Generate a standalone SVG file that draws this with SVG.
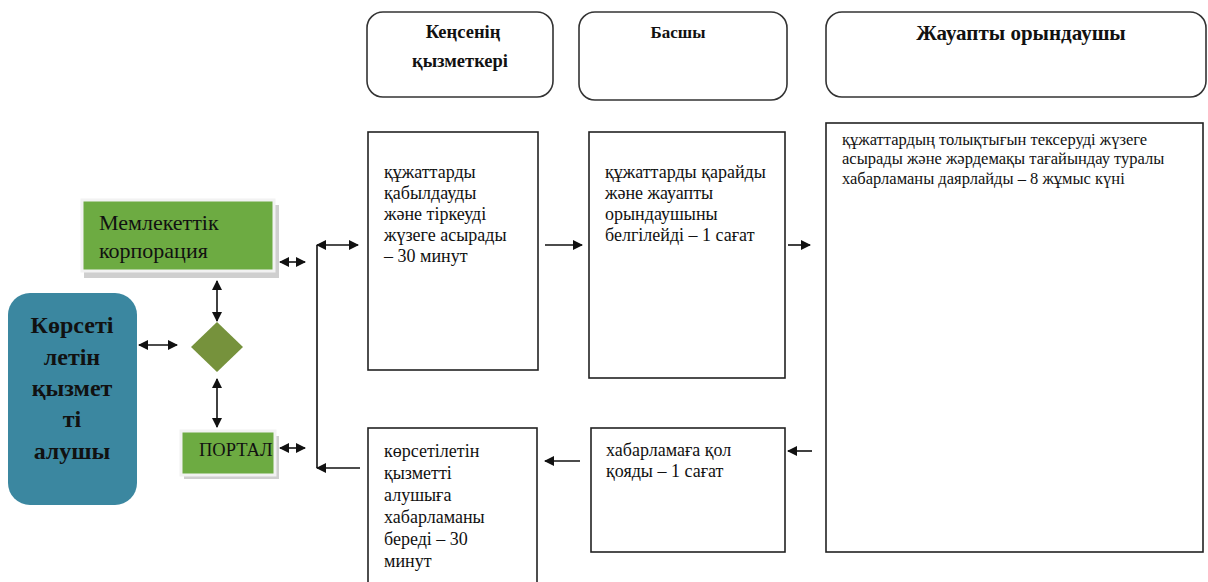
<svg xmlns="http://www.w3.org/2000/svg" width="1208" height="582" viewBox="0 0 1208 582">
<style>
.hdr{fill:#fff;stroke:#333;stroke-width:1.6}
.box{fill:#fff;stroke:#222;stroke-width:1.6}
.ht{font-family:'Liberation Serif','Times New Roman','DejaVu Serif',serif;font-weight:bold;fill:#111;text-anchor:middle}
.bt{font-family:'Liberation Serif','Times New Roman','DejaVu Serif',serif;font-size:18px;fill:#111}
.ct{font-family:'Liberation Serif','Times New Roman','DejaVu Serif',serif;font-size:16.5px;fill:#111}
.gt{font-family:'Liberation Serif','Times New Roman','DejaVu Serif',serif;fill:#111}
.ln{fill:none;stroke:#111;stroke-width:1.6}
.green{fill:#6dab42;stroke:#f2f2f2;stroke-width:3}
.shadow{fill:#cfcfcf}
</style>
<defs>
<marker id="ah" markerUnits="userSpaceOnUse" markerWidth="10" markerHeight="10" viewBox="0 0 10 10" refX="9" refY="5" orient="auto-start-reverse">
<path d="M0,0 L10,5 L0,10 z" fill="#111"/>
</marker>
</defs>
<rect width="1208" height="582" fill="#fff"/>

<g id="hdr1">
<rect class="hdr" x="367" y="12" width="186" height="85" rx="16"/>
<text class="ht" x="463" y="38" font-size="18.5">Кеңсенің</text>
<text class="ht" x="460" y="67" font-size="18.5">қызметкері</text>
</g>
<g id="hdr2">
<rect class="hdr" x="579" y="12" width="208" height="88" rx="16"/>
<text class="ht" x="678" y="38" font-size="17">Басшы</text>
</g>
<g id="hdr3">
<rect class="hdr" x="826" y="12" width="380" height="85" rx="16"/>
<text class="ht" x="1021" y="40" font-size="21">Жауапты орындаушы</text>
</g>

<g id="boxA">
<rect class="box" x="368" y="132" width="170" height="238"/>
<text class="bt" x="384" y="178">құжаттарды</text>
<text class="bt" x="384" y="199">қабылдауды</text>
<text class="bt" x="384" y="220">және тіркеуді</text>
<text class="bt" x="384" y="241">жүзеге асырады</text>
<text class="bt" x="384" y="262">– 30 минут</text>
</g>
<g id="boxB">
<rect class="box" x="589" y="132" width="196" height="246"/>
<text class="bt" x="605" y="178">құжаттарды қарайды</text>
<text class="bt" x="605" y="199">және жауапты</text>
<text class="bt" x="605" y="220">орындаушыны</text>
<text class="bt" x="605" y="241">белгілейді – 1 сағат</text>
</g>
<g id="boxC">
<rect class="box" x="826" y="123" width="377" height="429"/>
<text class="ct" x="842" y="145">құжаттардың толықтығын тексеруді жүзеге</text>
<text class="ct" x="842" y="164">асырады және жәрдемақы тағайындау туралы</text>
<text class="ct" x="842" y="184">хабарламаны даярлайды – 8 жұмыс күні</text>
</g>
<g id="boxD">
<rect class="box" x="368" y="428" width="169" height="170"/>
<text class="bt" x="384" y="457">көрсетілетін</text>
<text class="bt" x="384" y="479">қызметті</text>
<text class="bt" x="384" y="501">алушыға</text>
<text class="bt" x="384" y="523">хабарламаны</text>
<text class="bt" x="384" y="545">береді – 30</text>
<text class="bt" x="384" y="567">минут</text>
</g>
<g id="boxE">
<rect class="box" x="591" y="428" width="194" height="124"/>
<text class="bt" x="606" y="456">хабарламаға қол</text>
<text class="bt" x="606" y="477">қояды – 1 сағат</text>
</g>

<g id="recipient">
<rect x="8" y="293" width="129" height="212" rx="22" fill="#3b87a0"/>
<text class="ht" x="72" y="333" font-size="24">Көрсеті</text>
<text class="ht" x="72" y="365" font-size="24">летін</text>
<text class="ht" x="72" y="396" font-size="24">қызмет</text>
<text class="ht" x="72" y="427" font-size="24">ті</text>
<text class="ht" x="72" y="459" font-size="24">алушы</text>
</g>
<g id="corp">
<rect class="shadow" x="84" y="205" width="195" height="73"/>
<rect class="green" x="82" y="200" width="192" height="71"/>
<text class="gt" x="99" y="230" font-size="22">Мемлекеттік</text>
<text class="gt" x="99" y="258" font-size="22">корпорация</text>
</g>
<g id="portal">
<rect class="shadow" x="184" y="436" width="95" height="43"/>
<rect class="green" x="181" y="431" width="94" height="44"/>
<text class="gt" x="199" y="456" font-size="18.5">ПОРТАЛ</text>
</g>
<g id="diamond">
<polygon points="217,322 243,347 217,372 191,347" fill="#76923c"/>
</g>

<g id="connectors">
<line class="ln" x1="545" y1="245" x2="582" y2="245" marker-end="url(#ah)"/>
<line class="ln" x1="788" y1="245" x2="810" y2="245" marker-end="url(#ah)"/>
<line class="ln" x1="812" y1="451" x2="788" y2="451" marker-end="url(#ah)"/>
<line class="ln" x1="580" y1="461" x2="545" y2="461" marker-end="url(#ah)"/>
<line class="ln" x1="317" y1="245" x2="358" y2="245" marker-start="url(#ah)" marker-end="url(#ah)"/>
<line class="ln" x1="317" y1="245" x2="317" y2="468"/>
<line class="ln" x1="360" y1="468" x2="317" y2="468" marker-end="url(#ah)"/>
<line class="ln" x1="280" y1="262" x2="305" y2="262" marker-start="url(#ah)" marker-end="url(#ah)"/>
<line class="ln" x1="280" y1="448" x2="305" y2="448" marker-start="url(#ah)" marker-end="url(#ah)"/>
<line class="ln" x1="217" y1="281" x2="217" y2="321" marker-start="url(#ah)" marker-end="url(#ah)"/>
<line class="ln" x1="217" y1="379" x2="217" y2="427" marker-start="url(#ah)" marker-end="url(#ah)"/>
<line class="ln" x1="139" y1="345" x2="177" y2="345" marker-start="url(#ah)" marker-end="url(#ah)"/>
</g>
</svg>
